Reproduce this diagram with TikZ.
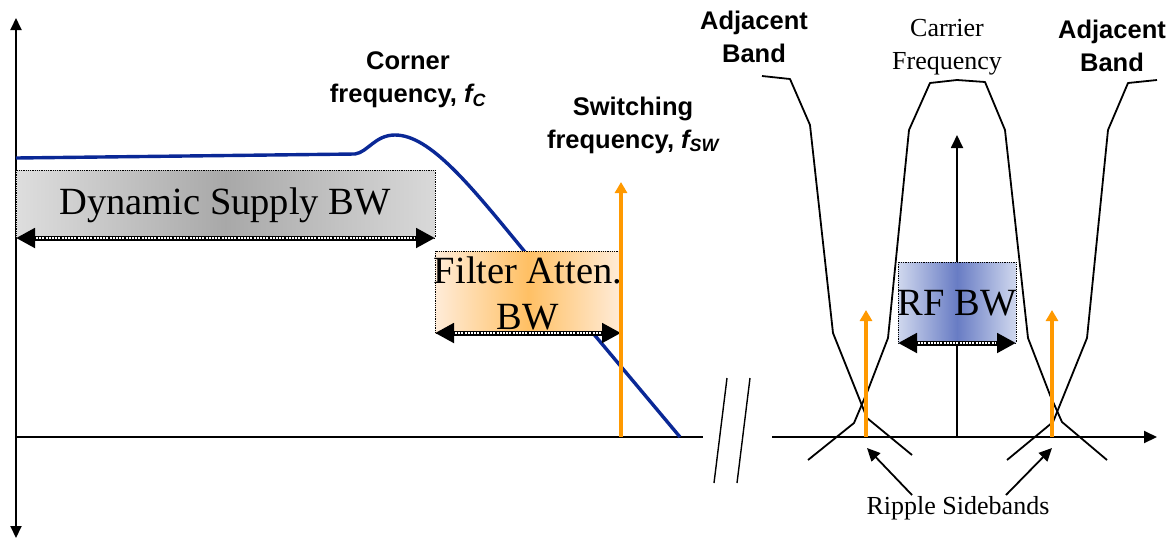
\documentclass[tikz,border=0pt]{standalone}
\usepackage{fontspec}
\setmainfont{Liberation Serif}
\newfontfamily\labsans{Liberation Sans}
\usetikzlibrary{arrows.meta}
\definecolor{plotblue}{RGB}{10,40,150}
\definecolor{sworange}{RGB}{255,153,0}
\tikzset{
  ax/.style={line width=2pt,black},
  band/.style={line width=1.8pt,black},
  bwbox/.style={draw=black,densely dotted,line width=0.8pt},
  bwarrow/.style={line width=5pt,{Triangle[length=19pt,width=19pt]}-{Triangle[length=19pt,width=19pt]}},
  bwinner/.style={white,line width=1.6pt,dash pattern=on 2pt off 1.2pt},
  orangearrow/.style={sworange,line width=3.2pt,-{Triangle[length=11pt,width=12pt]}},
  thinarrow/.style={line width=1.8pt,-{Triangle[length=13pt,width=12pt]}},
  boldlab/.style={font=\labsans\bfseries\fontsize{25.5}{33}\selectfont,align=center,inner sep=0pt},
  serlab/.style={font=\fontsize{26}{33}\selectfont,align=center,inner sep=0pt},
  biglab/.style={font=\fontsize{38.5}{46}\selectfont,align=center,inner sep=0pt},
}
\begin{document}
\begin{tikzpicture}[x=1pt,y=-1pt]
\useasboundingbox (0,0) rectangle (1175,539);

% ---- left plot ----
\coordinate (ytop) at (16,18);
\coordinate (ybot) at (16,538);
\coordinate (xl0) at (16,437);
\coordinate (xl1) at (703,437);
\draw[ax,{Triangle[length=12pt,width=11pt]}-{Triangle[length=12pt,width=11pt]}] (ybot) -- (ytop);
\draw[ax] (xl0) -- (xl1);

% blue response (drawn below the boxes)
\draw[plotblue,line width=3.4pt,line join=round]
  (16,158) -- (355,154) .. controls (368,152) and (375,135) .. (395,135)
  .. controls (430,135) and (470,185) .. (525,252) -- (680,437);

% boxes
\path[left color=black!13,right color=black!15,middle color=black!34] (16,170) rectangle (435,238);
\draw[bwbox] (16,170) rectangle (435,238);
\node[biglab] (dsbw) at (225,205) {Dynamic Supply BW};

\path[left color=orange!15,right color=orange!15,middle color={rgb,255:red,255;green,192;blue,100}] (435,251) rectangle (621,333);
\draw[bwbox] (435,251) rectangle (621,333);
\node[biglab] (fabw) at (528,293) {Filter Atten.\\BW};

% bw arrows
\coordinate (d0) at (16,238); \coordinate (d1) at (435,238);
\draw[bwarrow] (d0) -- (d1);
\draw[bwinner] ([xshift=20pt]d0) -- ([xshift=-20pt]d1);
\coordinate (f0) at (435,333); \coordinate (f1) at (621,333);
\draw[bwarrow] (f0) -- (f1);
\draw[bwinner] ([xshift=20pt]f0) -- ([xshift=-20pt]f1);

% switching arrow
\coordinate (sw0) at (621,437); \coordinate (sw1) at (621,182);
\draw[orangearrow] (sw0) -- (sw1);

\node[boldlab] (corner) at (408,80) {Corner\\frequency, \textit{f\textsubscript{C}}};
\node[boldlab] (swlab) at (633,125) {Switching\\frequency, \textit{f\textsubscript{SW}}};

% break marks
\draw[line width=1.4pt] (727,378) -- (714,483);
\draw[line width=1.4pt] (750,378) -- (737,483);

% ---- right plot ----
\coordinate (xr0) at (772,437); \coordinate (xr1) at (1157,437);
\draw[ax,-{Triangle[length=13pt,width=12pt]}] (xr0) -- (xr1);

\coordinate (c0) at (957,437); \coordinate (c1) at (957,135);
\draw[thinarrow] (c0) -- (c1);

\path[left color={rgb,255:red,208;green,216;blue,238},right color={rgb,255:red,208;green,216;blue,238},middle color={rgb,255:red,104;green,124;blue,196}] (898,262) rectangle (1016,343);
\draw[bwbox] (898,262) rectangle (1016,343);
\node[biglab] (rfbw) at (957,303) {RF BW};

\coordinate (r0) at (898,343); \coordinate (r1) at (1016,343);
\draw[bwarrow] (r0) -- (r1);
\draw[bwinner] ([xshift=20pt]r0) -- ([xshift=-20pt]r1);

% bands
\draw[band,line join=round] (808,460) -- (854,423) -- (868,390) -- (888,338) -- (909,130) -- (930,83)
  -- (957,80) -- (985,82) -- (1005,130) -- (1028,338) -- (1050,395) -- (1062,422) -- (1107,460);
\draw[band,line join=round] (762,76) -- (790,79) -- (810,125) -- (833,333) -- (867,418) -- (912,455);
\draw[band,line join=round] (1157,80) -- (1128,83) -- (1108,130) -- (1087,338) -- (1053,422) -- (1007,460);

% ripple arrows
\coordinate (rl0) at (866,437); \coordinate (rl1) at (866,310);
\coordinate (rr0) at (1052,437); \coordinate (rr1) at (1052,310);
\draw[orangearrow] (rl0) -- (rl1);
\draw[orangearrow] (rr0) -- (rr1);

\node[serlab] (ripple) at (958,508) {Ripple Sidebands};
\coordinate (pa0) at (912,495); \coordinate (pa1) at (867,448);
\coordinate (pb0) at (1006,495); \coordinate (pb1) at (1052,448);
\draw[thinarrow] (pa0) -- (pa1);
\draw[thinarrow] (pb0) -- (pb1);

\node[serlab] (carrier) at (947,47) {Carrier\\Frequency};
\node[boldlab] (adjl) at (754,37) {Adjacent\\Band};
\node[boldlab] (adjr) at (1112,46) {Adjacent\\Band};
\end{tikzpicture}
\end{document}
